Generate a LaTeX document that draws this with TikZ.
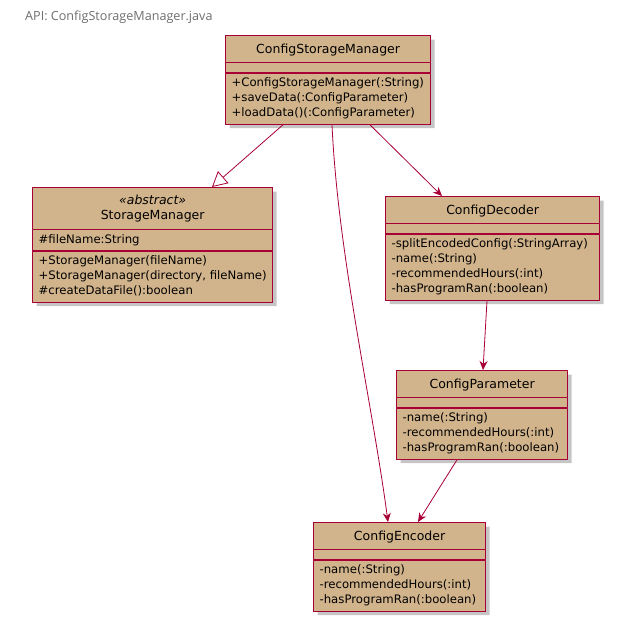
\documentclass[tikz,border=0pt]{standalone}
\usepackage{fontspec}
\setmainfont{DejaVu Sans}
\newfontfamily\headfont{Open Sans}
\usepackage{tikz}
\usetikzlibrary{arrows.meta,shapes.multipart,shadows}

\definecolor{umlborder}{HTML}{A80036}
\definecolor{umlfill}{HTML}{D2B48C}
\definecolor{headgray}{HTML}{6E6E6E}

% class name row: height 15pt, depth 6pt
\newcommand{\cname}[1]{{\fontsize{12.5}{15}\selectfont\rule[-6pt]{0pt}{21pt}#1}}

\begin{document}
\begin{tikzpicture}[
  x=1pt, y=-1pt,
  umlclass/.style={rectangle split, rectangle split parts=3, draw=umlborder,
    line width=1.2pt, fill=umlfill, align=left, anchor=north west,
    rectangle split part align={center,left,left},
    rectangle split empty part height=2pt, rectangle split empty part depth=0pt,
    inner xsep=6pt, inner ysep=2.5pt, font=\fontsize{11.7}{15}\selectfont,
    drop shadow={shadow xshift=4pt, shadow yshift=-4pt, fill=black!45, opacity=0.5}},
  link/.style={draw=umlborder, line width=0.8pt, -{Stealth[length=9pt, width=8pt]}},
  inherit/.style={draw=umlborder, line width=0.8pt,
    -{Triangle[open, length=15pt, width=16pt, fill=white]}}
]
\useasboundingbox (0,0) rectangle (629,626);

\node[anchor=west, inner sep=0pt, text=headgray, font=\headfont\fontsize{12.6}{14}\selectfont]
  (api) at (25,17) {API: ConfigStorageManager.java};

\node[umlclass, minimum width=205pt] (csm) at (225,35) {\cname{ConfigStorageManager}%
  \nodepart{two}\rule{0pt}{4pt}%
  \nodepart{three}\strut+ConfigStorageManager(:String)\\
  \strut+saveData(:ConfigParameter)\\
  \strut+loadData()(:ConfigParameter)};

\node[umlclass, minimum width=236pt] (sm) at (32,187) {{\fontsize{12.5}{15}\selectfont
  \begin{tabular}{@{}c@{}}\rule{0pt}{14pt}\textit{«abstract»}\\
  \rule[-7pt]{0pt}{7pt}StorageManager\end{tabular}}%
  \nodepart{two}\strut\#fileName:String%
  \nodepart{three}\strut+StorageManager(fileName)\\
  \strut+StorageManager(directory, fileName)\\
  \strut\#createDataFile():boolean};

\node[umlclass, minimum width=214pt] (cd) at (385,196) {\cname{ConfigDecoder}%
  \nodepart{two}\rule{0pt}{4pt}%
  \nodepart{three}\strut-splitEncodedConfig(:StringArray)\\
  \strut-name(:String)\\
  \strut-recommendedHours(:int)\\
  \strut-hasProgramRan(:boolean)};

\node[umlclass, minimum width=171pt] (cp) at (396,370) {\cname{ConfigParameter}%
  \nodepart{two}\rule{0pt}{4pt}%
  \nodepart{three}\strut-name(:String)\\
  \strut-recommendedHours(:int)\\
  \strut-hasProgramRan(:boolean)};

\node[umlclass, minimum width=172pt] (ce) at (313,522) {\cname{ConfigEncoder}%
  \nodepart{two}\rule{0pt}{4pt}%
  \nodepart{three}\strut-name(:String)\\
  \strut-recommendedHours(:int)\\
  \strut-hasProgramRan(:boolean)};

\draw[inherit] ([xshift=58pt]csm.south west) -- ([xshift=180pt]sm.north west);
\draw[link] ([xshift=145pt]csm.south west) -- ([xshift=57pt]cd.north west);
\draw[link] ([xshift=107pt]csm.south west) .. controls +(6,130) and +(-16,-120) .. ([xshift=75pt]ce.north west);
\draw[link] ([xshift=102pt]cd.south west) -- ([xshift=87pt]cp.north west);
\draw[link] ([xshift=61pt]cp.south west) -- ([xshift=105pt]ce.north west);
\end{tikzpicture}
\end{document}
